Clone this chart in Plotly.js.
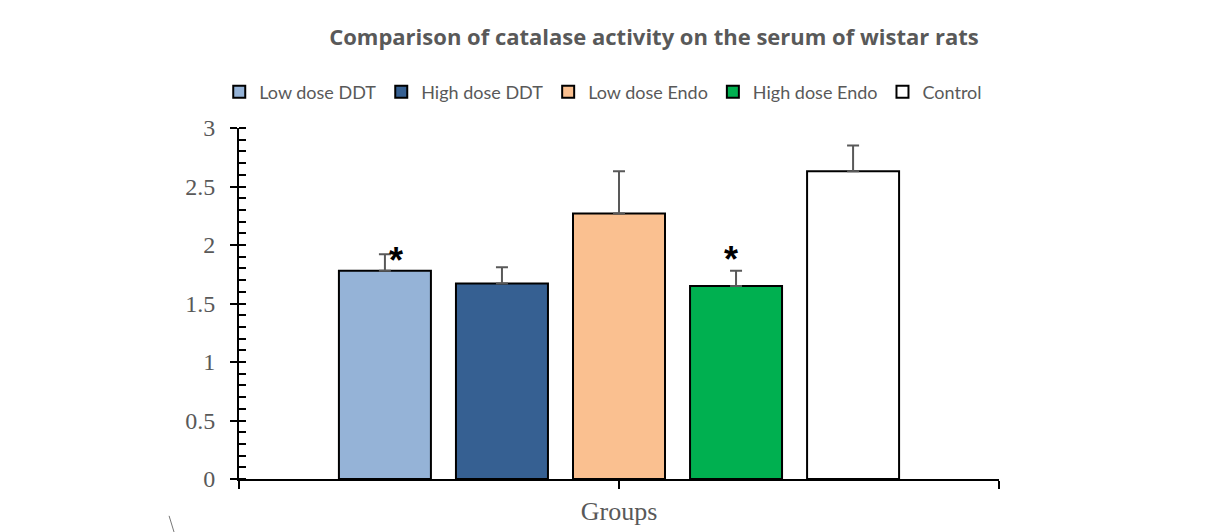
<!DOCTYPE html>
<html>
<head>
<meta charset="utf-8">
<script src="https://cdn.plot.ly/plotly-3.0.1.min.js"></script>
<style>html,body{margin:0;padding:0;background:#fff;}#chart{width:1222px;height:532px;}</style>
</head>
<body>
<div id="chart"></div>
<script>
const groups = ["Low dose DDT", "High dose DDT", "Low dose Endo", "High dose Endo", "Control"];
const values = [1.78, 1.67, 2.27, 1.65, 2.63];
const errors = [0.14, 0.14, 0.36, 0.13, 0.22];
const significant = [true, false, false, true, false];
const colors = ["#95B3D7", "#366092", "#FAC090", "#00B050", "#FFFFFF"];
const categoryLabel = "Groups";

const traces = groups.map((g, i) => ({
  type: "bar",
  name: g,
  x: [0],
  y: [values[i]],
  marker: {color: colors[i], line: {color: "#000000", width: 2}},
  error_y: {type: "data", symmetric: false, array: [errors[i]], arrayminus: [0],
            color: "#595959", thickness: 2, width: 6},
  hoverinfo: "y"
}));

const groupWidth = 0.77;
const slot = groupWidth / groups.length;
const annotations = [];
groups.forEach((g, i) => {
  if (!significant[i]) return;
  const cx = (i - (groups.length - 1) / 2) * slot;
  const shiftRight = i === 0;
  annotations.push({
    x: cx + (shiftRight ? 0.015 : -0.007),
    y: values[i] + errors[i] + (shiftRight ? -0.05 : 0.10),
    xref: "x", yref: "y", text: "<b>*</b>", showarrow: false,
    font: {family: "Liberation Sans, Arial", size: 36, color: "#000"},
    xanchor: "center", yanchor: "middle"
  });
});

const layout = {
  width: 1222, height: 532,
  paper_bgcolor: "#fff", plot_bgcolor: "#fff",
  margin: {l: 239, r: 223, t: 128, b: 53},
  title: {text: "Comparison of catalase activity on the serum of wistar rats",
          x: 0.546, xref: "paper", xanchor: "center", y: 0.93, yref: "container", yanchor: "middle",
          font: {family: "Open Sans, Noto Sans, sans-serif", size: 22, color: "#595959", weight: "bold"}},
  showlegend: true,
  legend: {orientation: "h", xref: "paper", x: -0.026, xanchor: "left",
           yref: "paper", y: 1.1026, yanchor: "middle",
           font: {family: "Lato, Open Sans, sans-serif", size: 18, color: "#595959"},
           itemwidth: 30, tracegroupgap: 0},
  barmode: "group", bargap: 0.23, bargroupgap: 0.214,
  xaxis: {range: [-0.5, 0.5], tickvals: [-0.5, 0, 0.5], showticklabels: false,
          ticks: "outside", ticklen: 8, tickwidth: 2, tickcolor: "#000",
          showline: true, linecolor: "#000", linewidth: 2, showgrid: false, zeroline: false,
          fixedrange: true,
          title: {text: categoryLabel, standoff: 14,
                  font: {family: "Liberation Serif, Times New Roman, serif", size: 26, color: "#595959"}}},
  yaxis: {range: [0, 3], dtick: 0.5, tick0: 0, ticks: "outside", ticklen: 7, tickwidth: 2, tickcolor: "#000",
          minor: {dtick: 0.1, ticks: "inside", ticklen: 7, tickwidth: 2, tickcolor: "#000", showgrid: false},
          showline: true, linecolor: "#000", linewidth: 2, showgrid: false, zeroline: false,
          tickfont: {family: "Liberation Serif, Times New Roman, serif", size: 24, color: "#595959"},
          ticklabelstandoff: 10},
  yaxis2: {overlaying: "y", range: [0, 3], dtick: 0.5, tick0: 0, ticks: "inside", ticklen: 7, tickwidth: 2,
           tickcolor: "#000", showticklabels: false, showline: false, showgrid: false, zeroline: false, side: "left"},
  annotations: annotations,
  shapes: [{type: "line", xref: "paper", yref: "paper", x0: -0.092, y0: -0.105, x1: -0.0855, y1: -0.151,
            line: {color: "#777", width: 1}}]
};

traces.push({type: "scatter", x: [0], y: [0], yaxis: "y2", mode: "markers", marker: {opacity: 0},
             showlegend: false, hoverinfo: "skip"});

Plotly.newPlot("chart", traces, layout, {displayModeBar: false, staticPlot: true});
</script>
</body>
</html>
